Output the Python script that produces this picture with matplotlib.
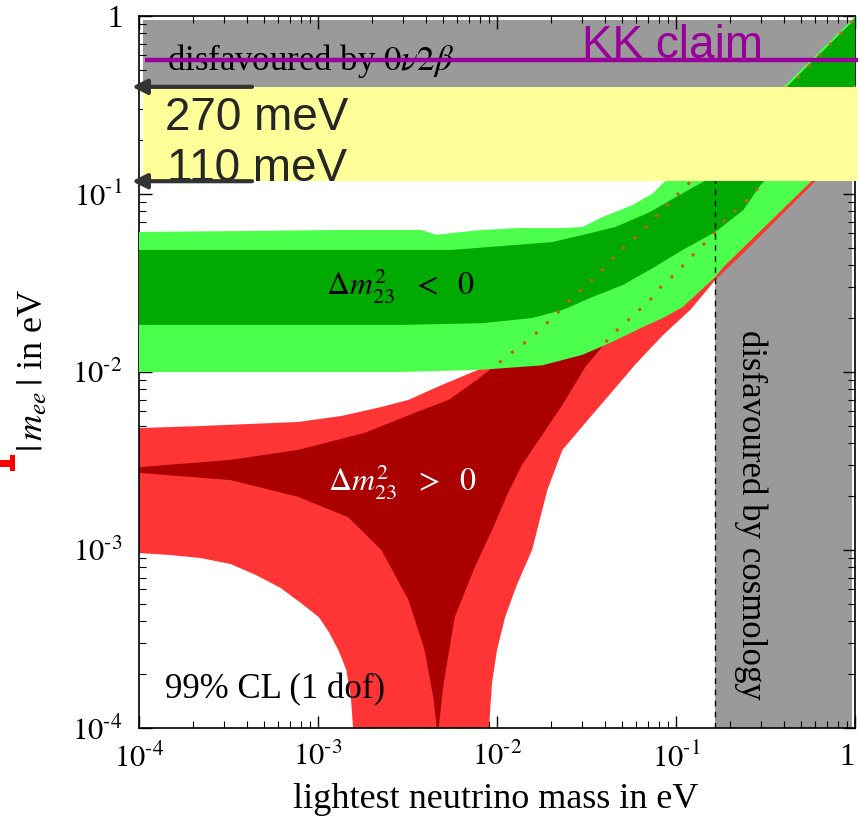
import numpy as np
import matplotlib
matplotlib.use('Agg')
import matplotlib.pyplot as plt
from matplotlib.patches import Rectangle
from matplotlib.transforms import blended_transform_factory

plt.rcParams['font.family'] = ['Liberation Serif', 'DejaVu Serif']
plt.rcParams['mathtext.fontset'] = 'stix'

# inverted hierarchy (dm23 < 0), outer (light) and inner (dark) bands
ih_outer_upper_x = [1e-4, 4.2e-4, 1.35e-3, 3.79e-3, 4.6e-3, 5.59e-3, 8.2e-3, 1.33e-2, 2.32e-2,
                    3.01e-2, 3.89e-2, 5.73e-2, 7.43e-2, 8.45e-2, 0.184, 0.399, 0.628, 0.96, 1.0]
ih_outer_upper_y = [0.0612, 0.0620, 0.0628, 0.0628, 0.0589, 0.0604, 0.0628, 0.0644, 0.0644,
                    0.0653, 0.0743, 0.0867, 0.101, 0.115, 0.214, 0.399, 0.628, 0.95, 1.0]
ih_outer_lower_x = [1e-4, 2.92e-3, 8.24e-3, 1.79e-2, 3.01e-2, 4.43e-2, 6.53e-2, 8.45e-2, 0.109,
                    0.166, 0.184, 0.308, 0.566, 1.0]
ih_outer_lower_y = [0.0100, 0.0100, 0.0103, 0.0109, 0.0125, 0.0148, 0.0179, 0.0201, 0.0232,
                    0.0342, 0.0389, 0.0644, 0.117, 0.214]
ih_inner_upper_x = [1e-4, 5.59e-3, 2.04e-2, 3.01e-2, 4.60e-2, 7.15e-2, 0.109, 0.142, 0.415, 0.962, 1.0]
ih_inner_upper_y = [0.0485, 0.0485, 0.0537, 0.0589, 0.0653, 0.0792, 0.101, 0.117, 0.399, 0.925, 0.99]
ih_inner_lower_x = [1e-4, 2.92e-3, 8.24e-3, 1.57e-2, 2.32e-2, 3.42e-2, 5.04e-2, 7.43e-2, 0.109,
                    0.166, 0.238, 0.296, 0.517, 1.0]
ih_inner_lower_y = [0.0184, 0.0184, 0.0188, 0.0201, 0.0223, 0.0264, 0.0308, 0.0384, 0.0485,
                    0.0612, 0.0813, 0.112, 0.201, 0.41]

# normal hierarchy (dm23 > 0), outer (light) band boundary pieces
nh_outer_upper_x = [1e-4, 2.2e-4, 7.72e-4, 1.35e-3, 2.26e-3, 3.2e-3, 4.91e-3, 8.24e-3, 1.79e-2,
                    5.04e-2, 0.142, 0.399, 1.0]
nh_outer_upper_y = [0.00484, 0.00497, 0.00524, 0.00566, 0.00636, 0.00697, 0.00845, 0.0105, 0.0151,
                    0.0308, 0.0628, 0.155, 0.36]
nh_outer_right_x = [1.0, 0.566, 0.238, 0.166, 0.120, 8.45e-2, 5.96e-2, 4.43e-2, 3.29e-2, 2.32e-2,
                    1.91e-2, 1.57e-2, 1.29e-2, 1.11e-2, 1.0e-2, 9.38e-3, 9.02e-3]
nh_outer_right_y = [0.201, 0.111, 0.0466, 0.0329, 0.0223, 0.0161, 0.0111, 0.00782, 0.00552, 0.00365,
                    0.00217, 0.0010, 6.36e-4, 4.2e-4, 2.74e-4, 1.79e-4, 1e-4]
nh_outer_left_x = [1.57e-3, 1.53e-3, 1.44e-3, 1.30e-3, 1.15e-3, 1.01e-3, 8.02e-4, 6.19e-4, 4.49e-4,
                   3.25e-4, 2.2e-4, 1.49e-4, 1e-4]
nh_outer_left_y = [1e-4, 1.44e-4, 2.12e-4, 2.74e-4, 3.46e-4, 4.2e-4, 5.04e-4, 6.12e-4, 7.24e-4,
                   8.34e-4, 9.02e-4, 9.37e-4, 9.62e-4]

# normal hierarchy inner (dark) band
nh_inner_upper_x = [1e-4, 3.25e-4, 7.72e-4, 1.81e-3, 3.46e-3, 5.37e-3, 7.72e-3, 1.07e-2, 1.57e-2,
                    2.17e-2, 2.57e-2, 3.65e-2, 4.91e-2, 5.96e-2, 8.13e-2, 0.112, 0.497, 0.813, 1.0]
nh_inner_upper_y = [0.00292, 0.00321, 0.00365, 0.00454, 0.00589, 0.00697, 0.00902, 0.0117, 0.0157,
                    0.0214, 0.0254, 0.0351, 0.0485, 0.0573, 0.0792, 0.109, 0.466, 0.78, 0.97]
nh_inner_right_x = [1.0, 0.296, 0.261, 0.217, 0.184, 0.157, 0.136, 0.114, 9.87e-2, 8.24e-2, 7.15e-2,
                    5.96e-2, 5.04e-2, 4.26e-2, 3.74e-2, 3.12e-2, 2.32e-2, 1.79e-2, 1.38e-2, 1.14e-2,
                    9.38e-3, 7.52e-3, 5.81e-3, 5.04e-3, 4.72e-3]
nh_inner_right_y = [0.38, 0.112, 0.0962, 0.0813, 0.0697, 0.0573, 0.0497, 0.0415, 0.0355, 0.0301, 0.0254,
                    0.0214, 0.0184, 0.0157, 0.0133, 0.0107, 0.00653, 0.00443, 0.00301, 0.00204,
                    0.00129, 8.02e-4, 4.2e-4, 1.79e-4, 1e-4]
nh_inner_left_x = [4.6e-3, 4.43e-3, 3.94e-3, 3.2e-3, 2.26e-3, 1.47e-3, 7.72e-4, 3.25e-4, 1e-4]
nh_inner_left_y = [1e-4, 1.44e-4, 2.74e-4, 5.24e-4, 1.0e-3, 1.53e-3, 1.99e-3, 2.47e-3, 2.71e-3]

cosmo_limit = 0.166      # eV, lightest mass
dbd_limit = 0.40         # eV, |m_ee| bound (grey band bottom)
kk_claim = 0.566         # eV
box_upper = 0.40         # "270 meV" arrow
box_lower = 0.118        # "110 meV" arrow

x_ticks = [1e-4, 1e-3, 1e-2, 1e-1, 1]
x_tick_labels = ['$10^{\\text{-4}}$', '$10^{\\text{-3}}$', '$10^{\\text{-2}}$', '$10^{\\text{-1}}$', '1']
y_ticks = [1e-4, 1e-3, 1e-2, 1e-1, 1]
y_tick_labels = ['$10^{\\text{-4}}$', '$10^{\\text{-3}}$', '$10^{\\text{-2}}$', '$10^{\\text{-1}}$', '1']

light_green = '#4cff4c'
dark_green = '#00aa00'
light_red = '#ff3535'
dark_red = '#aa0000'
grey = '#9a9a9a'

fig = plt.figure(figsize=(8.58, 8.26), dpi=100)
ax = fig.add_axes([139/858, 98/826, 716/858, 712/826])
ax.set_xscale('log')
ax.set_yscale('log')
ax.set_xlim(1e-4, 1)
ax.set_ylim(1e-4, 1)

# disfavoured regions
ax.add_patch(Rectangle((1.05e-4, dbd_limit), 0.96 - 1.05e-4, 0.95 - dbd_limit, color=grey, lw=0, zorder=1))
ax.add_patch(Rectangle((cosmo_limit, 1e-4), 0.96 - cosmo_limit, 0.95 - 1e-4, color=grey, lw=0, zorder=1))
ax.plot([cosmo_limit, cosmo_limit], [1e-4, dbd_limit], color='k', lw=1, dashes=(4, 4), zorder=6)

# normal hierarchy
ax.fill(nh_outer_upper_x + nh_outer_right_x + nh_outer_left_x,
        nh_outer_upper_y + nh_outer_right_y + nh_outer_left_y, color=light_red, lw=0, zorder=2)
ax.fill(nh_inner_upper_x + nh_inner_right_x + nh_inner_left_x,
        nh_inner_upper_y + nh_inner_right_y + nh_inner_left_y, color=dark_red, lw=0, zorder=2.1)

# inverted hierarchy
outer = ax.fill(ih_outer_upper_x + ih_outer_lower_x[::-1], ih_outer_upper_y + ih_outer_lower_y[::-1],
                color=light_green, lw=0, zorder=3)[0]
ax.fill(ih_inner_upper_x + ih_inner_lower_x[::-1], ih_inner_upper_y + ih_inner_lower_y[::-1],
        color=dark_green, lw=0, zorder=3.1)

# hidden edges of the normal-hierarchy band, dotted over the green
for xs, ys in [(nh_inner_upper_x, nh_inner_upper_y), (nh_inner_right_x, nh_inner_right_y)]:
    ln, = ax.plot(xs, ys, color='#c0602a', lw=2.2, linestyle=(0, (1, 4)), zorder=4)
    ln.set_clip_path(outer)

# labels inside the plot
ax.text(1.44e-4, 0.497, r'disfavoured by $\mathit{0}\nu\mathit{2}\beta$', fontsize=25, zorder=5)
ax.text(1.11e-3, 0.0271, r'$\Delta m^2_{23}\ \ <\ \ 0$', fontsize=23, zorder=5)
ax.text(1.14e-3, 0.00217, r'$\Delta m^2_{23}\ \ >\ \ 0$', fontsize=23, color='white', zorder=5)
ax.text(1.4e-4, 1.47e-4, '99% CL (1 dof)', fontsize=25, zorder=5)
ax.text(0.26, 0.00157, 'disfavoured by cosmology', fontsize=25, rotation=-90,
        ha='center', va='center', zorder=5)

# ticks
ax.set_xticks(x_ticks)
ax.set_xticklabels(x_tick_labels)
ax.set_yticks(y_ticks)
ax.set_yticklabels(y_tick_labels)
ax.tick_params(which='both', direction='in', top=True, right=True, labelsize=22)
ax.tick_params(which='major', length=9, width=1)
ax.tick_params(which='minor', length=5, width=0.8)
ax.tick_params(axis='x', pad=11)
ax.tick_params(axis='y', pad=12)
ax.get_xticklabels()[-1].set_ha('right')
for s in ax.spines.values():
    s.set_linewidth(1.2)

fig.text(496/858, 1 - 800/826, 'lightest neutrino mass in eV', fontsize=26, ha='center', va='center')
fig.text(33/858, 1 - 370/826, r'$|\,m_{ee}\,|$ in eV', fontsize=26, rotation=90, ha='center', va='center')

# overlay annotations
tr = blended_transform_factory(ax.transAxes, ax.transData)
ax.add_patch(Rectangle((4/716, box_lower), 719/716, box_upper - box_lower, transform=tr,
                       color='#ffff99', lw=0, zorder=10, clip_on=False))
ax.plot([6/716, 719/716], [kk_claim, kk_claim], transform=tr, color='#990099', lw=3.2,
        zorder=11, clip_on=False, solid_capstyle='butt')
ax.text(0.030, 0.58, 'KK claim', fontsize=33, color='#990099', family='Liberation Sans', zorder=11)
ax.text(1.4e-4, 0.229, '270 meV', fontsize=33, color='#262626', family='Liberation Sans', zorder=11)
ax.text(1.44e-4, 0.118, '110 meV', fontsize=33, color='#262626', family='Liberation Sans', zorder=11)
for yv in [box_upper, box_lower]:
    ax.annotate('', xy=(-7/716, yv), xytext=(113/716, yv), xycoords=tr, textcoords=tr,
                arrowprops=dict(arrowstyle='-|>', color='#333333', lw=3, mutation_scale=22,
                                shrinkA=0, shrinkB=0),
                annotation_clip=False, zorder=12)

# small red marker at the left edge
fig.add_artist(Rectangle((0, 1 - 467/826), 10/858, 7/826, transform=fig.transFigure, color='red', lw=0))
fig.add_artist(Rectangle((10/858, 1 - 471/826), 5/858, 16/826, transform=fig.transFigure, color='red', lw=0))

fig.savefig('out.png', dpi=100)
